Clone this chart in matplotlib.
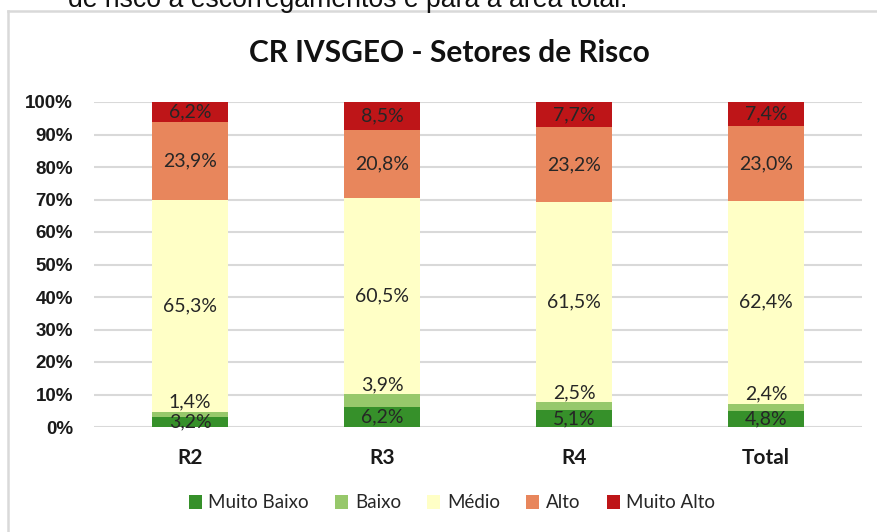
import matplotlib
matplotlib.use("Agg")
import matplotlib.pyplot as plt
from matplotlib.lines import Line2D
from matplotlib.patches import Patch

categories = ["R2", "R3", "R4", "Total"]
series_names = ["Muito Baixo", "Baixo", "Médio", "Alto", "Muito Alto"]
muito_baixo = [3.2, 6.2, 5.1, 4.8]
baixo = [1.4, 3.9, 2.5, 2.4]
medio = [65.3, 60.5, 61.5, 62.4]
alto = [23.9, 20.8, 23.2, 23.0]
muito_alto = [6.2, 8.5, 7.7, 7.4]
yticks = [0, 10, 20, 30, 40, 50, 60, 70, 80, 90, 100]
colors = ["#36902a", "#97c86b", "#ffffc6", "#e8865c", "#be1518"]

series = [muito_baixo, baixo, medio, alto, muito_alto]

W, H = 877, 532
fig = plt.figure(figsize=(W / 100, H / 100), dpi=100)
ax = fig.add_axes([94 / W, 1 - 427 / H, (862 - 94) / W, (427 - 102) / H])

x = list(range(len(categories)))
bottoms = [0.0] * len(categories)
label_font = dict(family="Lato", fontsize=14, color="#262626")
for i, (vals, col) in enumerate(zip(series, colors)):
    ax.bar(x, vals, bottom=bottoms, width=0.4, color=col, zorder=3)
    for j, v in enumerate(vals):
        txt = f"{v:.1f}".replace(".", ",") + "%"
        if i == 1:
            ax.annotate(txt, (x[j], bottoms[j] + v), xytext=(0, 7),
                        textcoords="offset points", ha="center", va="center",
                        zorder=5, **label_font)
        else:
            ax.text(x[j], bottoms[j] + v / 2, txt, ha="center", va="center",
                    zorder=5, **label_font)
    bottoms = [b + v for b, v in zip(bottoms, vals)]

ax.set_xlim(-0.5, len(categories) - 0.5)
ax.set_ylim(0, 100)
ax.set_yticks(yticks)
ax.set_yticklabels([f"{t}%" for t in yticks], family="Liberation Sans",
                   fontweight="bold", fontsize=13.5, color="#1a1a1a")
ax.set_xticks(x)
ax.set_xticklabels(categories, family="Lato", fontweight="bold",
                   fontsize=15, color="#1a1a1a")
ax.tick_params(axis="both", length=0)
ax.tick_params(axis="y", pad=15)
ax.tick_params(axis="x", pad=15)
for s in ax.spines.values():
    s.set_visible(False)
ax.grid(axis="y", color="#d9d9d9", lw=1.5, zorder=0)
ax.set_axisbelow(True)

fig.text(449 / W, 1 - 53 / H, "CR IVSGEO - Setores de Risco", ha="center",
         va="center", family="Lato", fontweight="bold", fontsize=21.5,
         color="#111111")

handles = [Patch(facecolor=c, edgecolor="none") for c in colors]
fig.legend(handles, series_names, loc="center", bbox_to_anchor=(452 / W, 1 - 503 / H),
           ncol=5, frameon=False, prop=dict(family="Lato", size=13.5),
           handlelength=0.7, handleheight=0.7, handletextpad=0.35,
           columnspacing=1.4, labelcolor="#262626")

# outer frame of the chart area
fig.add_artist(Line2D([8 / W, 1], [1 - 11 / H, 1 - 11 / H], color="#d9d9d9", lw=1.8))
fig.add_artist(Line2D([8 / W, 8 / W], [0, 1 - 11 / H], color="#d9d9d9", lw=1.8))

# clipped caption text from the page above the chart (cut off as in the source)
fig.text(68 / W, 1 - 7 / H, "de risco a escorregamentos e para a área total.",
         ha="left", va="baseline", family="Liberation Sans", fontsize=19.2,
         color="#111111")

fig.savefig("out.png", dpi=100)
